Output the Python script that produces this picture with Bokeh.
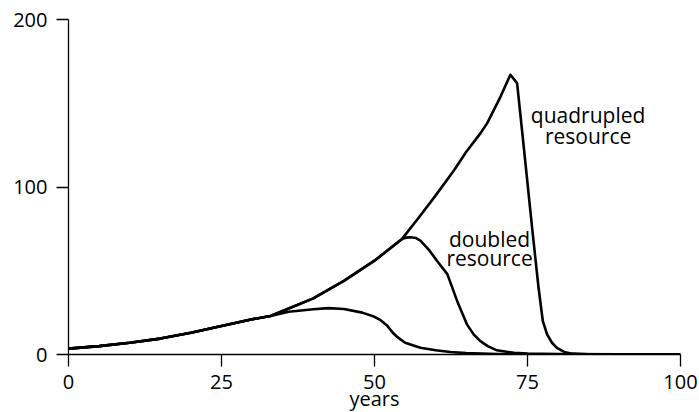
from bokeh.plotting import figure
from bokeh.models import Range1d, FixedTicker
from bokeh.core.properties import value
from bokeh.embed import file_html
from bokeh.resources import INLINE

# shared growth phase (years, level)
base_x = [0, 5, 10, 15, 20, 25, 30, 33]
base_y = [3.5, 5, 7, 9.5, 13, 17, 21, 23]

# original resource
single_x = [36, 40, 42.5, 45, 48, 50, 51, 52, 53, 53.7, 55, 57.5, 60, 62.4, 65, 70, 80, 100]
single_y = [25.5, 27, 27.7, 27.2, 25, 22.5, 20.5, 17.5, 13, 10.5, 7, 4, 2.5, 1.5, 0.8, 0.3, 0, 0]

# growth continues when resource is larger
grow_x = [35, 40, 45, 50, 54.5]
grow_y = [26, 33.5, 44, 56, 69]

# doubled resource
doubled_x = [55.2, 55.9, 56.8, 57.5, 59, 60.2, 61.9, 63.5, 65.1, 66.2, 67.3, 68.5, 70, 72.8, 75, 80, 100]
doubled_y = [69.8, 70, 69.5, 68, 62, 56, 48, 32, 18, 12, 8, 5, 2.5, 1, 0.5, 0.2, 0]

# quadrupled resource
quad_x = [57.5, 60, 63, 65, 67.3, 68.4, 70.6, 72.2, 73.3, 74.5, 75.8, 76.8, 77.5, 78.2, 79, 79.8, 81, 82.3, 85, 100]
quad_y = [83, 95, 110, 121, 132, 138, 154, 167, 162, 120, 74, 40, 20, 12, 7, 4, 1.5, 0.5, 0.1, 0]

x_ticks = [0, 25, 50, 75, 100]
y_ticks = [0, 100, 200]

FONT = "Open Sans"

p = figure(frame_width=612, frame_height=335, output_backend="svg", toolbar_location=None,
           x_range=Range1d(0, 100), y_range=Range1d(0, 200),
           min_border_left=68, min_border_right=19, min_border_top=19, min_border_bottom=20)
p.outline_line_color = None
p.xgrid.visible = False
p.ygrid.visible = False
p.background_fill_color = "white"
p.border_fill_color = "white"

single_curve_x = base_x + single_x
single_curve_y = base_y + single_y
doubled_curve_x = base_x + grow_x + doubled_x
doubled_curve_y = base_y + grow_y + doubled_y
quad_curve_x = base_x + grow_x + quad_x
quad_curve_y = base_y + grow_y + quad_y

for xs, ys in [(single_curve_x, single_curve_y), (doubled_curve_x, doubled_curve_y), (quad_curve_x, quad_curve_y)]:
    p.line(xs, ys, line_color="black", line_width=2.6, line_join="round")

p.xaxis.ticker = FixedTicker(ticks=x_ticks)
p.yaxis.ticker = FixedTicker(ticks=y_ticks)
for ax in [p.xaxis[0], p.yaxis[0]]:
    ax.minor_tick_line_color = None
    ax.major_tick_in = 0
    ax.major_tick_out = 12
    ax.axis_line_color = "black"
    ax.axis_line_width = 1.3
    ax.major_tick_line_color = "black"
    ax.major_tick_line_width = 1.3
    ax.major_label_text_font = FONT
    ax.major_label_text_font_size = "20px"
    ax.major_label_text_color = "black"

p.xaxis.major_label_standoff = 8
p.yaxis.major_label_standoff = 9
p.xaxis.axis_label = "years"
p.xaxis.axis_label_text_font = FONT
p.xaxis.axis_label_text_font_size = "20px"
p.xaxis.axis_label_text_font_style = "normal"
p.xaxis.axis_label_text_color = "black"
p.xaxis.axis_label_standoff = -7

p.text(x=[84.9, 84.9], y=[143.2, 130.3], text=["quadrupled", "resource"],
       text_font=value(FONT), text_font_size="21px", text_align="center",
       text_baseline="alphabetic", text_color="black")
p.text(x=[68.8, 68.8], y=[69, 57.6], text=["doubled", "resource"],
       text_font=value(FONT), text_font_size="21px", text_align="center",
       text_baseline="alphabetic", text_color="black")

open("out.html", "w").write(file_html(p, INLINE))
